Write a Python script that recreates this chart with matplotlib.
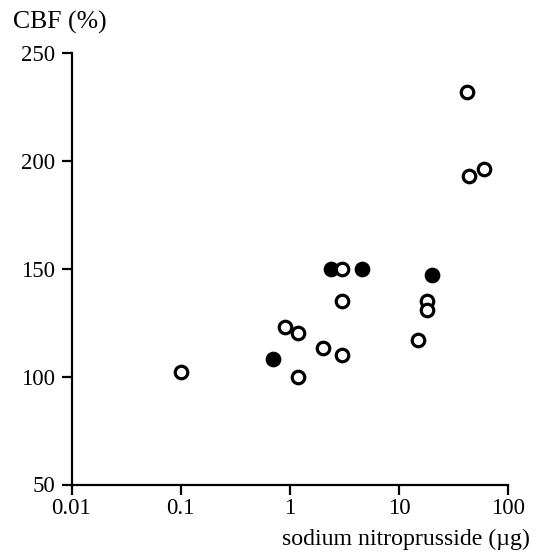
import matplotlib
matplotlib.use("Agg")
import matplotlib.pyplot as plt
from matplotlib.ticker import FixedLocator, FixedFormatter, NullLocator

# Data
open_x = [0.1, 0.9, 1.2, 1.2, 2.0, 3.0, 3.0, 3.0, 15, 18, 18, 42, 44, 60]
open_y = [102, 123, 120, 100, 113, 110, 135, 150, 117, 135, 131, 232, 193, 196]
filled_x = [0.7, 2.4, 4.6, 20]
filled_y = [108, 150, 150, 147]

x_ticks = [0.01, 0.1, 1, 10, 100]
x_tick_labels = ["0.01", "0.1", "1", "10", "100"]
y_ticks = [50, 100, 150, 200, 250]
y_tick_labels = ["50", "100", "150", "200", "250"]

plt.rcParams['font.family'] = ['Liberation Serif', 'DejaVu Serif']

W, H = 541, 557
fig = plt.figure(figsize=(W / 100, H / 100), dpi=100)
left, right, bottom_px, top_px = 71.5, 508, 484.5, 52.7
ax = fig.add_axes([left / W, 1 - bottom_px / H, (right - left) / W, (bottom_px - top_px) / H])

ax.set_xscale('log')
ax.set_xlim(0.01, 100)
ax.set_ylim(50, 250)

ax.plot(open_x, open_y, linestyle='none', marker='o', markersize=9,
        markerfacecolor='white', markeredgecolor='black', markeredgewidth=2.3, zorder=3)
ax.plot(filled_x, filled_y, linestyle='none', marker='o', markersize=9,
        markerfacecolor='black', markeredgecolor='black', markeredgewidth=2.3, zorder=2)

for s in ['top', 'right']:
    ax.spines[s].set_visible(False)
for s in ['left', 'bottom']:
    ax.spines[s].set_linewidth(1.6)

ax.xaxis.set_major_locator(FixedLocator(x_ticks))
ax.xaxis.set_major_formatter(FixedFormatter(x_tick_labels))
ax.xaxis.set_minor_locator(NullLocator())
ax.yaxis.set_major_locator(FixedLocator(y_ticks))
ax.yaxis.set_major_formatter(FixedFormatter(y_tick_labels))
ax.tick_params(axis='both', direction='out', length=7, width=1.6, labelsize=16.5, colors='black')
ax.tick_params(axis='x', pad=3)
ax.tick_params(axis='y', pad=5)

fig.text(13 / W, 1 - 22 / H, "CBF (%)", fontsize=18.5, ha='left', va='center')
fig.text(530 / W, 1 - 539 / H, "sodium nitroprusside (\u00b5g)", fontsize=17.2, ha='right', va='center')

fig.savefig("out.png", dpi=100)
